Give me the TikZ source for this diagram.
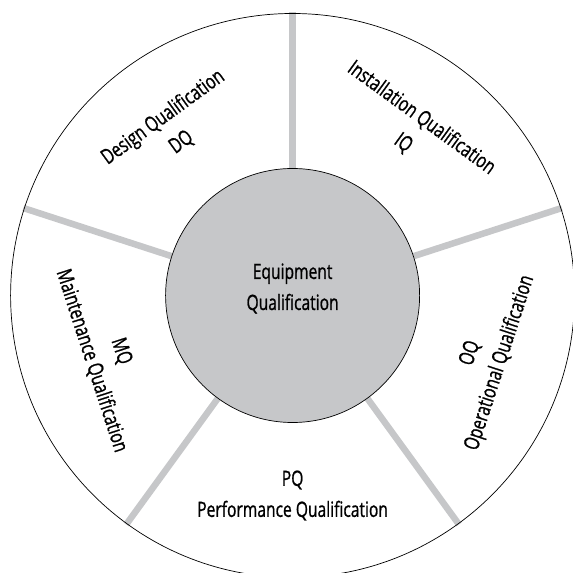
\documentclass[tikz,border=0pt]{standalone}
\usepackage{fontspec}
\setmainfont{Open Sans}[FakeStretch=0.74,FakeBold=0.9]
\usetikzlibrary{backgrounds}
\definecolor{wheelgray}{RGB}{198,199,201}

\begin{document}
\begin{tikzpicture}[
    x=0.03cm,y=0.03cm,
    hub/.style  ={draw,circle,fill=wheelgray,line width=0.6pt,
                  minimum size=7.62cm,inner sep=0pt},
    spoke/.style={wheelgray,line width=0.195cm},
    phase/.style={font=\fontsize{18}{26.5}\selectfont,align=center},
  ]
  \useasboundingbox (-292.6,-277.5) rectangle (280.4,295.5);

  %% Outer ring
  \draw[line width=0.6pt] (0,0) circle (282);

  %% Hub
  \node[hub] (hub) at (0,0) {};
  \node[phase] (hubtext) at (0,7) {Equipment\\Qualification};

  %% Spokes between hub and ring
  \begin{scope}[on background layer]
    \foreach \a in {90,18,-54,-126,162} {
      \coordinate (rim\a) at (\a:283);
      \draw[spoke] (hub.\a) -- (rim\a);
    }
  \end{scope}

  %% Qualification phases
  \node[phase,rotate=36]  (dq) at (126:205) {Design Qualification\\DQ};
  \node[phase,rotate=-36] (iq) at (54:204)  {Installation Qualification\\IQ};
  \node[phase,rotate=72]  (oq) at (-18:203) {OQ\\Operational Qualification};
  \node[phase]            (pq) at (-90:200) {PQ\\Performance Qualification};
  \node[phase,rotate=-72] (mq) at (-162:196) {MQ\\Maintenance Qualification};
\end{tikzpicture}
\end{document}
